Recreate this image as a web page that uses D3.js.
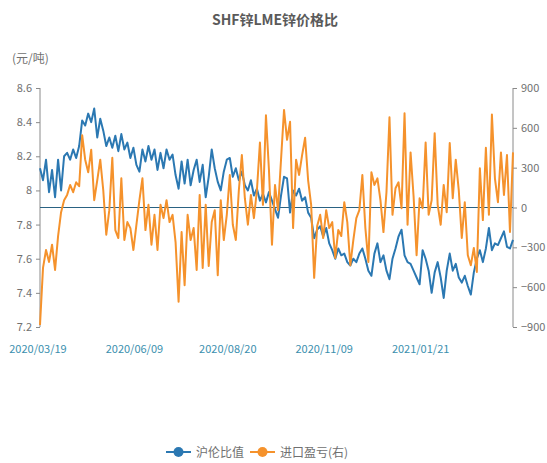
<!DOCTYPE html>
<html>
<head>
<meta charset="utf-8">
<script src="https://cdn.jsdelivr.net/npm/d3@7"></script>
<style>
  body { margin: 0; background: #fff; }
  svg { display: block; font-family: "Noto Sans CJK SC", "Noto Sans", sans-serif; }
</style>
</head>
<body>
<svg id="fig_zn_ratio" width="547" height="463"></svg>
<script>
'use strict';

// x axis labels, shown every few trading days
const tickLabels = ['2020/03/19', '2020/06/09', '2020/08/20', '2020/11/09', '2021/01/21'];
const tickIndex = [0, 32, 63, 95, 127];

// SHF zinc / LME zinc ratio (left axis)
const ratio = [
    8.13, 8.06, 8.18, 7.99, 8.12, 7.96, 8.18, 8.00, 8.20, 8.22,
    8.18, 8.24, 8.19, 8.26, 8.41, 8.38, 8.45, 8.40, 8.48, 8.31,
    8.42, 8.35, 8.26, 8.31, 8.25, 8.32, 8.23, 8.33, 8.24, 8.28,
    8.19, 8.25, 8.15, 8.11, 8.24, 8.17, 8.26, 8.18, 8.24, 8.12,
    8.22, 8.13, 8.24, 8.18, 8.21, 8.09, 8.01, 8.17, 8.04, 8.18,
    8.03, 8.12, 8.18, 8.05, 8.15, 7.96, 8.08, 8.24, 8.13, 8.05,
    8.00, 8.11, 8.18, 8.19, 8.08, 8.13, 8.06, 8.11, 8.03, 8.00,
    8.06, 7.97, 8.01, 7.94, 7.98, 7.93, 7.99, 7.94, 7.89, 7.84,
    7.97, 8.08, 8.07, 7.87, 8.00, 7.97, 8.01, 7.94, 7.96, 7.87,
    7.84, 7.72, 7.77, 7.79, 7.73, 7.78, 7.69, 7.65, 7.60, 7.66,
    7.62, 7.63, 7.58, 7.56, 7.60, 7.58, 7.63, 7.66, 7.60, 7.53,
    7.50, 7.63, 7.69, 7.58, 7.62, 7.53, 7.48, 7.60, 7.66, 7.73,
    7.77, 7.62, 7.58, 7.57, 7.53, 7.49, 7.45, 7.65, 7.60, 7.53,
    7.40, 7.52, 7.58, 7.49, 7.37, 7.53, 7.63, 7.53, 7.57, 7.49,
    7.46, 7.50, 7.44, 7.39, 7.52, 7.60, 7.65, 7.58, 7.66, 7.78,
    7.65, 7.69, 7.68, 7.72, 7.76, 7.67, 7.66, 7.71
];

// import profit / loss, yuan per ton (right axis)
const importPnl = [
    -885, -455, -320, -410, -280, -470, -215, -35, 55, 95,
    170, 115, 190, 160, 545, 360, 265, 435, 55, 205,
    360, 130, -205, -20, 375, -170, -230, 220, -245, -110,
    -155, -320, -130, 55, 220, -170, 20, -280, -55, -320,
    20, -80, 55, -110, -55, -260, -710, -185, -585, -55,
    -245, -155, -470, 95, -455, 20, -440, -110, -20, -510,
    55, -245, -55, 245, -130, -245, 130, 395, 70, -130,
    95, -80, 130, 490, 20, 695, 280, -280, 170, -20,
    360, 735, 510, 645, -155, 360, 245, 395, 525, 205,
    20, -530, -140, -55, -230, -20, -155, -110, -380, -170,
    -215, 40, -110, -435, -245, -80, -20, 245, -155, -410,
    265, 170, 220, 55, -185, 115, 680, -55, 145, 190,
    -5, 710, -130, 415, 85, -360, 70, -5, 490, -55,
    55, 560, 20, -130, 170, -35, 485, 70, 360, 130,
    -230, 40, -360, -435, -305, -485, 295, -95, 450, -55,
    700, 220, 40, 415, 95, 395, -185, 415
];

const seriesNames = ['沪伦比值', '进口盈亏(右)'];
const leftTicks = [8.6, 8.4, 8.2, 8.0, 7.8, 7.6, 7.4, 7.2];
const rightTicks = [900, 600, 300, 0, -300, -600, -900];

const fig = {
    svg: d3.select('#fig_zn_ratio'),
    left: 40,
    right: 513,
    top: 88,
    bottom: 327,
    color_ratio: '#2b78b2',
    color_pnl: '#f5922c',
    color_text: '#707070',
    color_date: '#3b8fae',
    color_axis: '#8a8a8a',
    color_zero: '#2a6282',

    draw: function() {
        const svg = this.svg;
        const n = ratio.length;

        const x = d3.scaleLinear().domain([0, n - 1]).range([this.left, this.right]);
        const yL = d3.scaleLinear().domain([7.2, 8.6]).range([this.bottom, this.top]);
        const yR = d3.scaleLinear().domain([-900, 900]).range([this.bottom, this.top]);

        // title
        svg.append('text')
            .attr('x', 275).attr('y', 25)
            .attr('text-anchor', 'middle')
            .attr('font-size', 14).attr('font-weight', 'bold')
            .attr('fill', '#5a5a5a')
            .text('SHF锌LME锌价格比');

        // unit
        svg.append('text')
            .attr('x', 12).attr('y', 63)
            .attr('font-size', 12)
            .attr('fill', this.color_text)
            .text('(元/吨)');

        // left axis
        const axL = svg.append('g')
            .attr('transform', 'translate(' + this.left + ',0)')
            .call(d3.axisLeft(yL).tickValues(leftTicks).tickSize(4).tickPadding(4)
                .tickFormat(d3.format('~g')));
        axL.select('.domain').attr('stroke', this.color_axis).attr('d', 'M0,' + this.top + 'V' + this.bottom);
        axL.selectAll('.tick line').attr('stroke', this.color_axis);
        axL.selectAll('.tick text').attr('fill', this.color_text).attr('font-size', 11)
            .attr('font-family', '"Noto Sans CJK SC", sans-serif');

        // right axis
        const axR = svg.append('g')
            .attr('transform', 'translate(' + this.right + ',0)')
            .call(d3.axisRight(yR).tickValues(rightTicks).tickSize(4).tickPadding(4));
        axR.select('.domain').attr('stroke', this.color_axis).attr('d', 'M0,' + this.top + 'V' + this.bottom);
        axR.selectAll('.tick line').attr('stroke', this.color_axis);
        axR.selectAll('.tick text').attr('fill', this.color_text).attr('font-size', 11)
            .attr('font-family', '"Noto Sans CJK SC", sans-serif');

        // date labels
        svg.append('g').selectAll('text')
            .data(tickIndex)
            .enter()
            .append('text')
            .attr('x', d => x(d) - 2)
            .attr('y', 353)
            .attr('text-anchor', 'middle')
            .attr('font-size', 11)
            .attr('fill', this.color_date)
            .text((d, i) => tickLabels[i]);

        // zero line of the right axis
        svg.append('line')
            .attr('x1', this.left).attr('x2', this.right)
            .attr('y1', yR(0)).attr('y2', yR(0))
            .attr('stroke', this.color_zero).attr('stroke-width', 1.2);

        // lines
        const lineL = d3.line().x((d, i) => x(i)).y(d => yL(d));
        const lineR = d3.line().x((d, i) => x(i)).y(d => yR(d));

        svg.append('path')
            .datum(ratio)
            .attr('d', lineL)
            .attr('fill', 'none')
            .attr('stroke', this.color_ratio)
            .attr('stroke-width', 2)
            .attr('stroke-linejoin', 'round');

        svg.append('path')
            .datum(importPnl)
            .attr('d', lineR)
            .attr('fill', 'none')
            .attr('stroke', this.color_pnl)
            .attr('stroke-width', 2)
            .attr('stroke-linejoin', 'round');

        this._draw_legend();
    },

    _draw_legend: function() {
        const colors = [this.color_ratio, this.color_pnl];
        const xs = [166, 250];
        const g = this.svg.append('g').attr('class', 'legend');
        for (let i = 0; i < seriesNames.length; i++) {
            const cx = xs[i];
            g.append('line')
                .attr('x1', cx).attr('x2', cx + 25)
                .attr('y1', 452).attr('y2', 452)
                .attr('stroke', colors[i]).attr('stroke-width', 2);
            g.append('circle')
                .attr('cx', cx + 12.5).attr('cy', 452).attr('r', 5)
                .attr('fill', colors[i]);
            g.append('text')
                .attr('x', cx + 30).attr('y', 456.5)
                .attr('font-size', 12)
                .attr('fill', this.color_text)
                .text(seriesNames[i]);
        }
    }
};

fig.draw();
</script>
</body>
</html>
